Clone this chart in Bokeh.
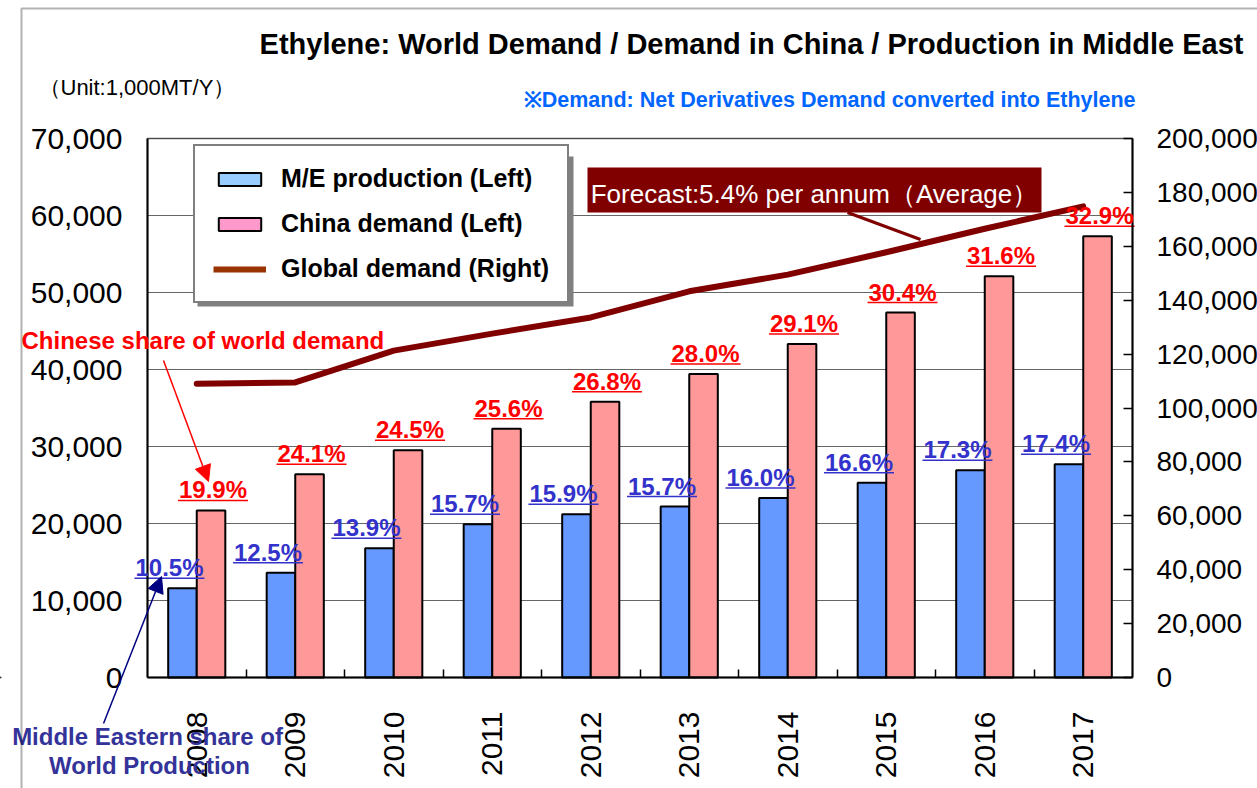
import numpy as np
from bokeh.plotting import figure
from bokeh.models import (Range1d, LinearAxis, FixedTicker, NumeralTickFormatter, ColumnDataSource,
                          LabelSet, Label, Legend, LegendItem, Arrow, NormalHead, BoxAnnotation, Grid)
from bokeh.core.properties import value
from bokeh.embed import file_html
from bokeh.resources import INLINE

# ---------------- data ----------------
years = ["2008", "2009", "2010", "2011", "2012", "2013", "2014", "2015", "2016", "2017"]
me_production = [11600, 13600, 16800, 19900, 21200, 22200, 23300, 25300, 26900, 27700]
china_demand = [21700, 26400, 29500, 32300, 35800, 39400, 43300, 47400, 52100, 57300]
global_demand = [109000, 109500, 121300, 127600, 133600, 143300, 149500, 157800, 166500, 174800]
me_share = ["10.5%", "12.5%", "13.9%", "15.7%", "15.9%", "15.7%", "16.0%", "16.6%", "17.3%", "17.4%"]
china_share = ["19.9%", "24.1%", "24.5%", "25.6%", "26.8%", "28.0%", "29.1%", "30.4%", "31.6%", "32.9%"]
left_ticks = [0, 10000, 20000, 30000, 40000, 50000, 60000, 70000]
right_ticks = [0, 20000, 40000, 60000, 80000, 100000, 120000, 140000, 160000, 180000, 200000]
LEFT_MAX, RIGHT_MAX = 70000, 200000

FONT = "Liberation Sans"
W, H = 1257, 788
# pixel box of the plot area inside the page
FL, FT, FW, FH = 147, 138, 985, 539
N = len(years)
PXU = FW / N                       # pixels per category
X0 = -0.5 - FL / PXU               # data x at left canvas edge
X1 = -0.5 + (W - FL) / PXU         # data x at right canvas edge
Y1 = (FT + FH) / FH * LEFT_MAX     # data y (left) at canvas top
Y0 = -(H - FT - FH) / FH * LEFT_MAX
R1 = (FT + FH) / FH * RIGHT_MAX
R0 = -(H - FT - FH) / FH * RIGHT_MAX
PX_X = 1 / PXU
PX_Y = LEFT_MAX / FH

CU = dict(x_units="canvas", y_units="canvas")
TXT_SHIFT = 7   # baseline correction for canvas-unit labels

p = figure(width=W, height=H, x_range=Range1d(X0, X1), y_range=Range1d(Y0, Y1),
           output_backend="svg", toolbar_location=None,
           min_border_left=0, min_border_right=0, min_border_top=0, min_border_bottom=0,
           x_axis_type=None, y_axis_type=None)
p.extra_y_ranges = {"right": Range1d(R0, R1)}
p.background_fill_color = "white"
p.border_fill_color = "white"
p.outline_line_color = None

# x axis
xa = LinearAxis(fixed_location=0, bounds=(-0.5, N - 0.5),
                ticker=FixedTicker(ticks=list(range(N)), minor_ticks=[i + 0.5 for i in range(N - 1)]))
xa.major_label_overrides = {i: y for i, y in enumerate(years)}
xa.major_tick_in = 0
xa.major_tick_out = 0
xa.minor_tick_in = 8
xa.minor_tick_out = 0
xa.minor_tick_line_color = "black"
xa.minor_tick_line_width = 1.5
xa.major_label_orientation = np.pi / 2
xa.major_label_standoff = 34
xa.major_label_text_font = FONT
xa.major_label_text_font_size = "30px"
xa.major_label_text_color = "black"
xa.axis_line_color = "black"
xa.axis_line_width = 2
p.add_layout(xa, "below")

# left axis
ya = LinearAxis(fixed_location=-0.5, bounds=(0, LEFT_MAX), ticker=FixedTicker(ticks=left_ticks),
                formatter=NumeralTickFormatter(format="0,0"))
ya.major_tick_in = 0
ya.major_tick_out = 0
ya.minor_tick_line_color = None
ya.major_label_standoff = 25
ya.major_label_text_font = FONT
ya.major_label_text_font_size = "30px"
ya.major_label_text_color = "black"
ya.axis_line_color = "black"
ya.axis_line_width = 2
p.add_layout(ya, "left")

# right axis
ra = LinearAxis(y_range_name="right", fixed_location=N - 0.5, bounds=(0, RIGHT_MAX),
                ticker=FixedTicker(ticks=right_ticks), formatter=NumeralTickFormatter(format="0,0"))
ra.major_tick_in = 9
ra.major_tick_out = 0
ra.major_tick_line_color = "black"
ra.major_tick_line_width = 1.5
ra.minor_tick_line_color = None
ra.major_label_standoff = 24
ra.major_label_text_font = FONT
ra.major_label_text_font_size = "28px"
ra.major_label_text_color = "black"
ra.axis_line_color = "black"
ra.axis_line_width = 2
p.add_layout(ra, "right")

# horizontal grid lines (left-axis ticks) restricted to the plot area
g = Grid(dimension=1, ticker=FixedTicker(ticks=left_ticks), grid_line_color="#666666", grid_line_width=1)
g.bounds = (0, LEFT_MAX)
g.cross_bounds = (-0.5, N - 0.5)
p.add_layout(g)

# plot-area frame
p.add_layout(BoxAnnotation(left=-0.5, right=N - 0.5, bottom=0, top=LEFT_MAX,
                           fill_alpha=0, line_color="black", line_width=2))

# bars
BAR_W = 0.29
idx = np.arange(N)
src = ColumnDataSource(dict(
    xb=idx - BAR_W / 2, xp=idx + BAR_W / 2, xc=idx,
    me=me_production, cn=china_demand, gd=global_demand,
))
p.vbar(x="xb", top="me", width=BAR_W, source=src, fill_color="#6699ff",
       line_color="black", line_width=2)
p.vbar(x="xp", top="cn", width=BAR_W, source=src, fill_color="#ff9999",
       line_color="black", line_width=2)

# global demand line
p.line(x="xc", y="gd", source=src, y_range_name="right", line_color="#800000",
       line_width=6, line_join="round", line_cap="round")

# percentage labels (underlined)
LBL_W = 70 * PX_X
cxs = list(idx + BAR_W / 2 + 2 * PX_X)
bxs = list(idx - BAR_W / 2 - 13 * PX_X)
lbl_src = ColumnDataSource(dict(
    cx=cxs, cy=china_demand, ct=china_share,
    bx=bxs, by=me_production, bt=me_share,
    cx0=[v - LBL_W / 2 for v in cxs], cx1=[v + LBL_W / 2 for v in cxs],
    cyy=[v + 10 * PX_Y for v in china_demand],
    bx0=[v - LBL_W / 2 for v in bxs], bx1=[v + LBL_W / 2 for v in bxs],
    byy=[v + 10 * PX_Y for v in me_production],
))
p.add_layout(LabelSet(x="cx", y="cy", text="ct", source=lbl_src, y_offset=12,
                      text_align="center", text_baseline="alphabetic",
                      text_font=value(FONT), text_font_style="bold", text_font_size="24px",
                      text_color="#ff0000"))
p.add_layout(LabelSet(x="bx", y="by", text="bt", source=lbl_src, y_offset=12,
                      text_align="center", text_baseline="alphabetic",
                      text_font=value(FONT), text_font_style="bold", text_font_size="24px",
                      text_color="#3333cc"))
p.segment(x0="cx0", x1="cx1", y0="cyy", y1="cyy", source=lbl_src, line_color="#ff0000", line_width=1.5)
p.segment(x0="bx0", x1="bx1", y0="byy", y1="byy", source=lbl_src, line_color="#3333cc", line_width=1.5)

# legend shadow + legend (off-range renderers carry the legend swatch styles)
p.add_layout(BoxAnnotation(left=197, right=573, top=156, bottom=306,
                           left_units="canvas", right_units="canvas",
                           top_units="canvas", bottom_units="canvas",
                           fill_color="#808080", fill_alpha=1.0, line_color=None))
r1 = p.vbar(x=[X0 - 5], top=[1], width=0.1, fill_color="#99ccff", line_color="black", line_width=2)
r2 = p.vbar(x=[X0 - 5], top=[1], width=0.1, fill_color="#ff99cc", line_color="black", line_width=2)
r3 = p.line(x=[X0 - 5, X0 - 4], y=[1, 1], line_color="#993300", line_width=6)
legend = Legend(items=[LegendItem(label="M/E production (Left)", renderers=[r1]),
                       LegendItem(label="China demand (Left)", renderers=[r2]),
                       LegendItem(label="Global demand (Right)", renderers=[r3])],
                location=(193, H - 303), orientation="vertical",
                glyph_width=53, glyph_height=16, label_standoff=15, label_height=28,
                spacing=16, padding=18, margin=0,
                label_text_font=FONT, label_text_font_style="bold", label_text_font_size="25px",
                label_text_color="black",
                border_line_color="black", border_line_width=2,
                background_fill_color="white", background_fill_alpha=1.0)
p.add_layout(legend)

# forecast callout
p.add_layout(BoxAnnotation(left=587, right=1041, top=167, bottom=212,
                           left_units="canvas", right_units="canvas",
                           top_units="canvas", bottom_units="canvas",
                           fill_color="#800000", fill_alpha=1.0, line_color=None))
p.add_layout(Arrow(end=None, x_start=847, y_start=212, x_end=920, y_end=239,
                   start_units="canvas", end_units="canvas",
                   line_color="#800000", line_width=3))
p.add_layout(Label(x=814, y=200 - TXT_SHIFT, **CU,
                   text="Forecast:5.4% per annum（Average）",
                   text_align="center", text_baseline="alphabetic", text_font=FONT,
                   text_font_size="26px", text_color="white"))

# titles / notes
p.add_layout(Label(x=1243, y=50 - TXT_SHIFT, **CU,
                   text="Ethylene: World Demand / Demand in China / Production in Middle East",
                   text_align="right", text_baseline="alphabetic", text_font=FONT,
                   text_font_style="bold", text_font_size="29px", text_color="black"))
p.add_layout(Label(x=38, y=94 - TXT_SHIFT, **CU,
                   text="（Unit:1,000MT/Y）",
                   text_align="left", text_baseline="alphabetic", text_font=FONT,
                   text_font_size="22px", text_color="black"))
p.add_layout(Label(x=1135, y=106 - TXT_SHIFT, **CU,
                   text="※Demand: Net Derivatives Demand converted into Ethylene",
                   text_align="right", text_baseline="alphabetic", text_font=FONT,
                   text_font_style="bold", text_font_size="21.5px", text_color="#0066ff"))

# callouts
p.add_layout(Label(x=21, y=347 - TXT_SHIFT, **CU,
                   text="Chinese share of world demand",
                   text_align="left", text_baseline="alphabetic", text_font=FONT,
                   text_font_style="bold", text_font_size="24px", text_color="#ff0000"))
p.add_layout(Arrow(end=NormalHead(size=16, fill_color="#ff0000", line_color="#ff0000"),
                   x_start=163, y_start=360, x_end=208, y_end=481,
                   start_units="canvas", end_units="canvas",
                   line_color="#ff0000", line_width=1.5))
p.add_layout(Label(x=147, y=743 - TXT_SHIFT, **CU,
                   text="Middle Eastern share of",
                   text_align="center", text_baseline="alphabetic", text_font=FONT,
                   text_font_style="bold", text_font_size="24px", text_color="#333399"))
p.add_layout(Label(x=149, y=772 - TXT_SHIFT, **CU,
                   text="World Production",
                   text_align="center", text_baseline="alphabetic", text_font=FONT,
                   text_font_style="bold", text_font_size="24px", text_color="#333399"))
p.add_layout(Arrow(end=NormalHead(size=16, fill_color="#000080", line_color="#000080"),
                   x_start=103, y_start=723, x_end=161, y_end=576,
                   start_units="canvas", end_units="canvas",
                   line_color="#000080", line_width=1.5))

# outer chart-area border
p.add_layout(BoxAnnotation(left=21, right=1400, top=8, bottom=900,
                           left_units="canvas", right_units="canvas",
                           top_units="canvas", bottom_units="canvas",
                           fill_alpha=0, line_color="black", line_width=2))

open("out.html", "w").write(file_html(p, INLINE))
